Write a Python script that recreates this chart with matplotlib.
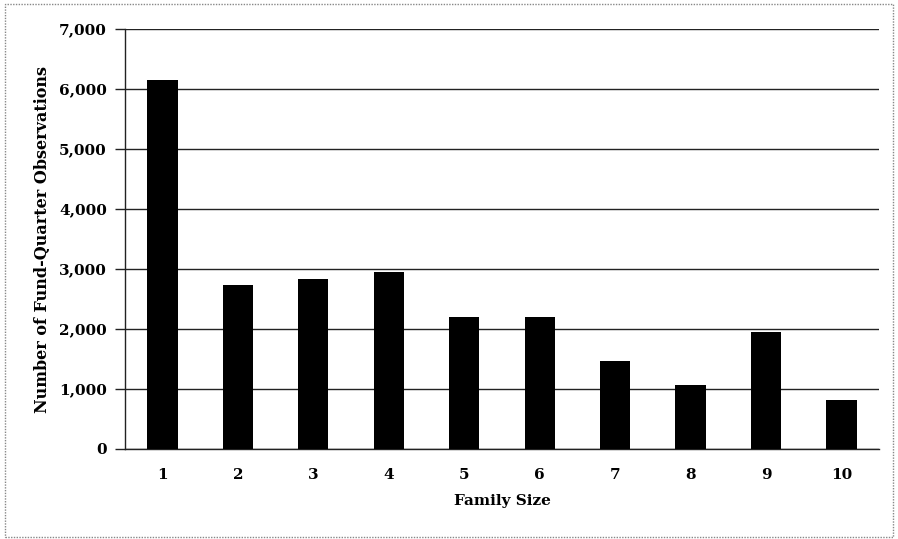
import matplotlib
matplotlib.use("Agg")
import matplotlib.pyplot as plt
from matplotlib.patches import Rectangle
from matplotlib.ticker import FuncFormatter

categories = ["1", "2", "3", "4", "5", "6", "7", "8", "9", "10"]
observations = [6150, 2730, 2830, 2950, 2200, 2200, 1460, 1060, 1950, 820]
y_ticks = [0, 1000, 2000, 3000, 4000, 5000, 6000, 7000]

plt.rcParams['font.family'] = ['DejaVu Serif']
plt.rcParams['font.weight'] = 'bold'

fig = plt.figure(figsize=(8.98, 5.39), dpi=100)
ax = fig.add_axes([0.139, 0.167, 0.840, 0.779])

x = list(range(1, len(categories) + 1))
ax.bar(x, observations, width=0.4, color='black', zorder=3)

ax.set_xlim(0.5, 10.5)
ax.set_ylim(0, 7000)
ax.set_yticks(y_ticks)
ax.yaxis.set_major_formatter(FuncFormatter(lambda v, p: f"{int(v):,}"))
ax.set_xticks(x)
ax.set_xticklabels(categories)

ax.grid(axis='y', color='#222222', linewidth=1.0, zorder=1)
for s in ['top', 'right']:
    ax.spines[s].set_visible(False)
ax.spines['bottom'].set_color('#222222')
ax.spines['bottom'].set_linewidth(1.0)
ax.spines['left'].set_color('#222222')
ax.spines['left'].set_linewidth(1.0)
ax.tick_params(axis='y', length=7, width=1, color='#222222', labelsize=11, pad=6)
ax.tick_params(axis='x', length=0, labelsize=11, pad=14)
for lab in ax.get_xticklabels() + ax.get_yticklabels():
    lab.set_fontweight('bold')

ax.set_xlabel("Family Size", fontsize=11, fontweight='bold', labelpad=8)
ax.set_ylabel("Number of Fund-Quarter Observations", fontsize=11.5, fontweight='bold', labelpad=6)

fig.patches.append(Rectangle((0.006, 0.004), 0.988, 0.988, transform=fig.transFigure,
                             fill=False, edgecolor='#888888', linewidth=1.0, linestyle=(0, (1, 1))))

fig.savefig("out.png", dpi=100)
